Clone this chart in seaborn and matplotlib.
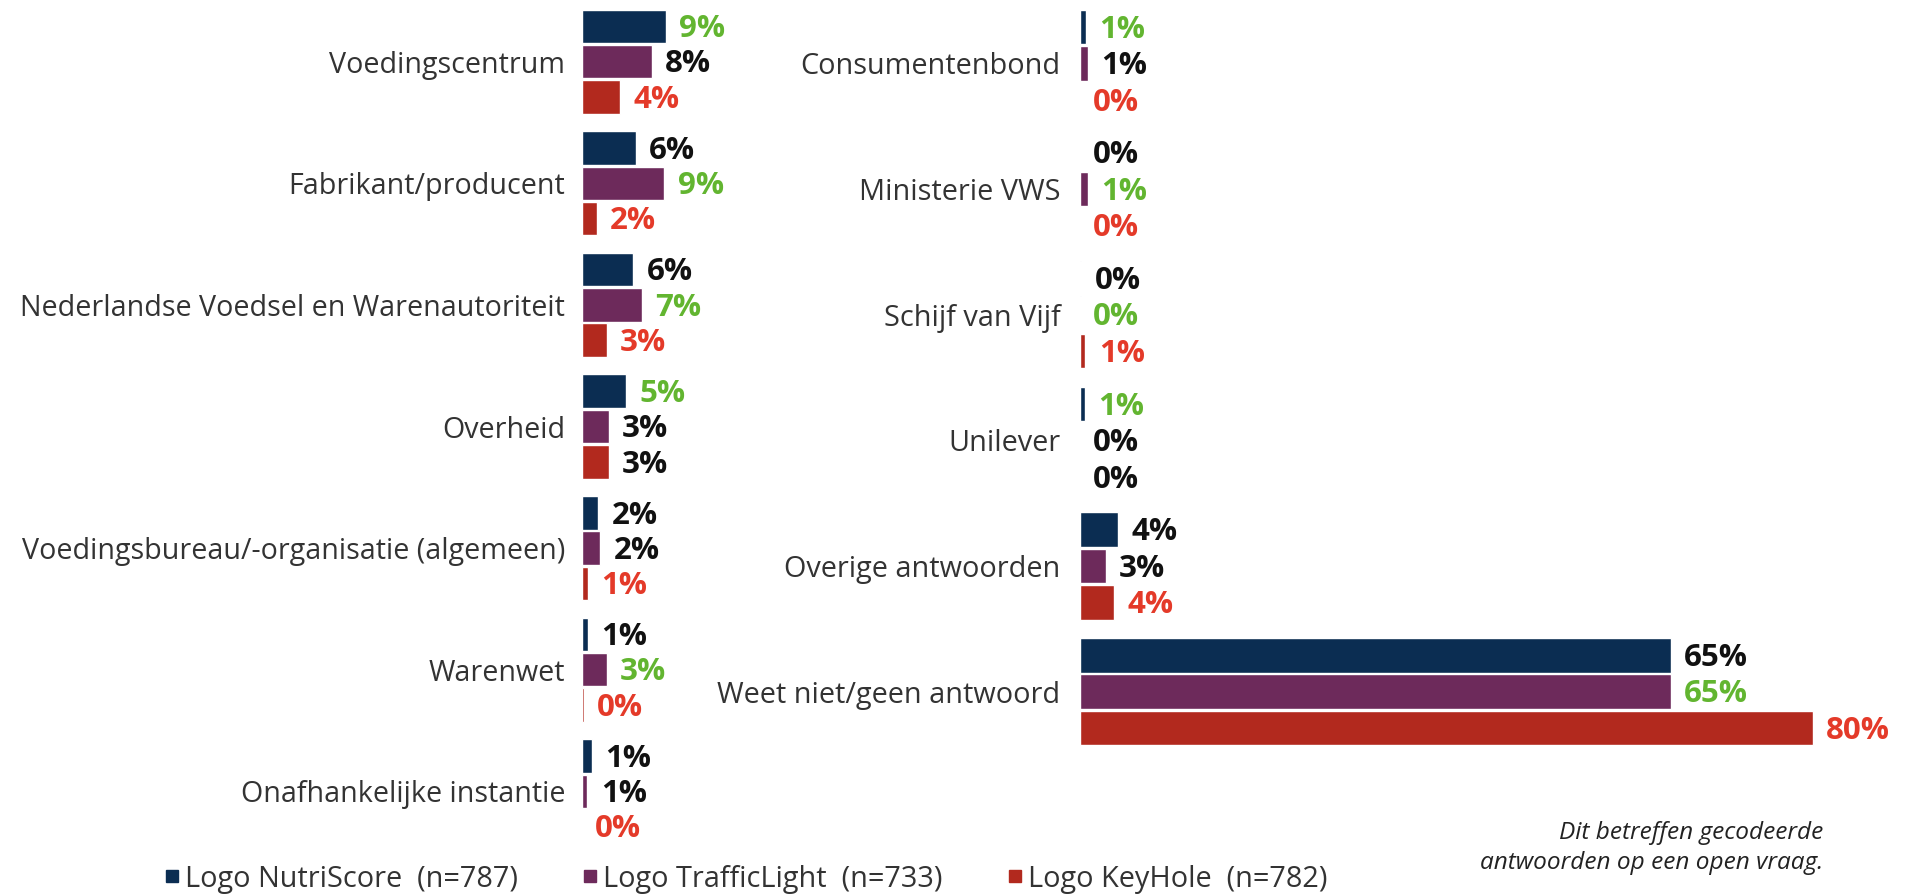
import seaborn as sns
import matplotlib.pyplot as plt
import pandas as pd
from matplotlib.lines import Line2D

# series (legend labels)
series = ["Logo NutriScore  (n=787)", "Logo TrafficLight  (n=733)", "Logo KeyHole  (n=782)"]
bar_colors = ["#0B2D52", "#6D2A5B", "#B2291E"]

# left panel
left_cats = ["Voedingscentrum", "Fabrikant/producent", "Nederlandse Voedsel en Warenautoriteit",
             "Overheid", "Voedingsbureau/-organisatie (algemeen)", "Warenwet", "Onafhankelijke instantie"]
left_nutri = [9.2, 5.85, 5.6, 4.8, 1.8, 0.65, 1.05]
left_traffic = [7.65, 9.0, 6.6, 2.9, 2.0, 2.7, 0.6]
left_keyhole = [4.15, 1.6, 2.7, 2.9, 0.7, 0.2, 0.0]
# label colour codes: g = significantly highest, r = lowest, k = neutral
left_lab = [["g", "k", "r"], ["k", "g", "r"], ["k", "g", "r"], ["g", "k", "k"],
            ["k", "k", "r"], ["k", "g", "r"], ["k", "k", "r"]]

# right panel
right_cats = ["Consumentenbond", "Ministerie VWS", "Schijf van Vijf", "Unilever",
              "Overige antwoorden", "Weet niet/geen antwoord"]
right_nutri = [0.65, 0.0, 0.15, 0.55, 4.2, 64.6]
right_traffic = [0.9, 0.9, 0.0, 0.0, 2.8, 64.6]
right_keyhole = [0.0, 0.0, 0.6, 0.0, 3.7, 80.1]
right_lab = [["g", "k", "r"], ["k", "g", "r"], ["k", "g", "r"], ["g", "k", "k"],
             ["k", "k", "r"], ["k", "g", "r"]]

label_colors = {"g": "#62B530", "k": "#111111", "r": "#E43A29"}
PX_PER_PCT = 9.15


def make_df(cats, a, b, c):
    rows = []
    for s, vals in zip(series, [a, b, c]):
        for cat, v in zip(cats, vals):
            rows.append({"cat": cat, "value": v, "series": s})
    return pd.DataFrame(rows)


def draw(ax, df, cats, labs, pad, labsize):
    sns.barplot(data=df, y="cat", x="value", hue="series", order=cats, hue_order=series,
                palette=bar_colors, orient="y", width=0.87, gap=0.05, saturation=1,
                legend=False, ax=ax)
    for j, cont in enumerate(ax.containers):
        for i, p in enumerate(cont.patches):
            v = p.get_width()
            ax.annotate(f"{v:.0f}%", xy=(v, p.get_y() + p.get_height() / 2),
                        xytext=(9.5, -2), textcoords="offset points", va="center", ha="left",
                        fontsize=22.5, fontweight="bold", color=label_colors[labs[i][j]])
    ax.set_xlabel("")
    ax.set_ylabel("")
    ax.set_xticks([])
    ax.tick_params(axis="y", length=0, pad=pad, labelsize=labsize, labelcolor="#333333")
    for sp in ax.spines.values():
        sp.set_visible(False)
    ax.set_facecolor("none")


sns.set_theme(style="white")
plt.rcParams["font.family"] = ["Open Sans", "DejaVu Sans"]

fig = plt.figure(figsize=(19.06, 8.96), dpi=100)
ax1 = fig.add_axes([582 / 1906, 1 - 852.1 / 896, 418 / 1906, 851.2 / 896])
ax2 = fig.add_axes([1080 / 1906, 1 - 754.5 / 896, 826 / 1906, 754.05 / 896])

draw(ax1, make_df(left_cats, left_nutri, left_traffic, left_keyhole), left_cats, left_lab, 12, 20.6)
ax1.set_xlim(0, 418 / PX_PER_PCT)
draw(ax2, make_df(right_cats, right_nutri, right_traffic, right_keyhole), right_cats, right_lab, 14, 20.8)
ax2.set_xlim(0, 826 / PX_PER_PCT)

handles = [Line2D([], [], marker="s", linestyle="", markersize=9, color=c) for c in bar_colors]
fig.legend(handles, series, ncol=3, loc="center left", bbox_to_anchor=(137 / 1906, 1 - 879 / 896),
           frameon=False, fontsize=20.8, handlelength=0.6, handletextpad=0.16, columnspacing=2.2,
           labelcolor="#333333")

fig.text(1823 / 1906, 1 - 833 / 896, "Dit betreffen gecodeerde", ha="right", va="center",
         fontsize=17.6, style="italic", color="#222222")
fig.text(1823 / 1906, 1 - 863 / 896, "antwoorden op een open vraag.", ha="right", va="center",
         fontsize=17.6, style="italic", color="#222222")

fig.savefig("out.png", dpi=100)
